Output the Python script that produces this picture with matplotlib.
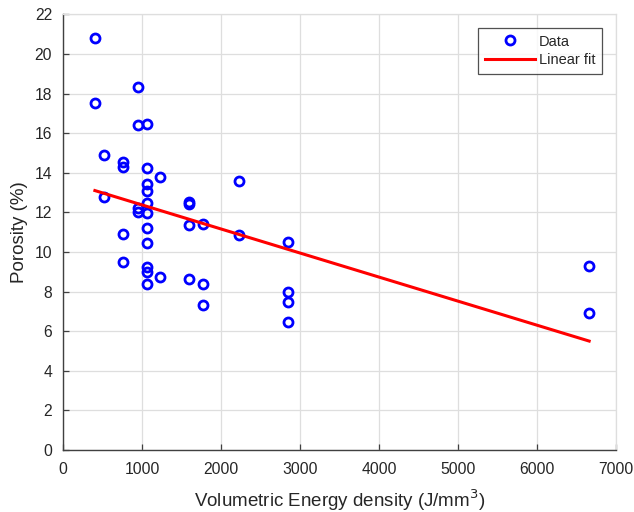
import matplotlib
matplotlib.use("Agg")
import matplotlib.pyplot as plt

plt.rcParams['font.family'] = ['Liberation Sans', 'DejaVu Sans']

energy = [400, 400, 940, 940, 1060, 520, 520, 750, 750, 750, 750,
          1060, 1060, 1060, 1060, 1060, 1060, 1060, 1060, 1060, 1060,
          940, 940, 1220, 1220,
          1590, 1590, 1590, 1590,
          1770, 1770, 1770,
          2220, 2220,
          2850, 2850, 2850, 2850,
          6660, 6660]
porosity = [20.8, 17.5, 18.35, 16.4, 16.45, 14.9, 12.8, 14.55, 14.3, 10.9, 9.5,
            14.25, 13.45, 13.1, 12.45, 11.95, 11.2, 10.45, 9.25, 9.0, 8.4,
            12.2, 12.0, 13.8, 8.75,
            12.5, 12.4, 11.35, 8.65,
            11.4, 8.4, 7.3,
            13.6, 10.85,
            10.5, 8.0, 7.45, 6.45,
            9.3, 6.9]

fit_x = [400, 6660]
fit_y = [13.1, 5.5]

xticks = [0, 1000, 2000, 3000, 4000, 5000, 6000, 7000]
yticks = list(range(0, 23, 2))

fig = plt.figure(figsize=(6.34, 5.12), dpi=100)
ax = fig.add_axes([63.3/634, 1 - 450/512, (616 - 63.3)/634, (450 - 14.3)/512])

txt = '#262626'
ax.plot(energy, porosity, linestyle='none', marker='o', markersize=6.5,
        markerfacecolor='none', markeredgecolor='#0000ff', markeredgewidth=2.0,
        label='Data', zorder=3)
ax.plot(fit_x, fit_y, color='#ff0000', linewidth=2.2, label='Linear fit', zorder=4)

ax.set_xlim(0, 7000)
ax.set_ylim(0, 22)
ax.set_xticks(xticks)
ax.set_yticks(yticks)
ax.grid(True, color='#dedede', linewidth=0.9)
ax.set_axisbelow(True)

for s in ['left', 'bottom']:
    ax.spines[s].set_color('#404040')
    ax.spines[s].set_linewidth(1.0)
for s in ['top', 'right']:
    ax.spines[s].set_color('#dedede')
    ax.spines[s].set_linewidth(0.9)

ax.tick_params(direction='in', length=4, width=0.9, color='#404040',
               labelsize=11.3, labelcolor=txt)
ax.tick_params(axis='x', pad=9)
ax.tick_params(axis='y', pad=8)

ax.set_xlabel('Volumetric Energy density (J/mm$^3$)', fontsize=13.5, color=txt, labelpad=7)
ax.set_ylabel('Porosity (%)', fontsize=13.5, color=txt, labelpad=5)

leg = ax.legend(loc='upper right', bbox_to_anchor=(602/634, 1 - 28/512),
                bbox_transform=fig.transFigure, borderaxespad=0,
                fontsize=10.5, frameon=True,
                fancybox=False, edgecolor='#262626', borderpad=0.45,
                handlelength=3.4, handletextpad=0.3, labelspacing=0.3)
leg.get_frame().set_linewidth(0.9)
for t in leg.get_texts():
    t.set_color(txt)

fig.savefig('out.png', dpi=100)
